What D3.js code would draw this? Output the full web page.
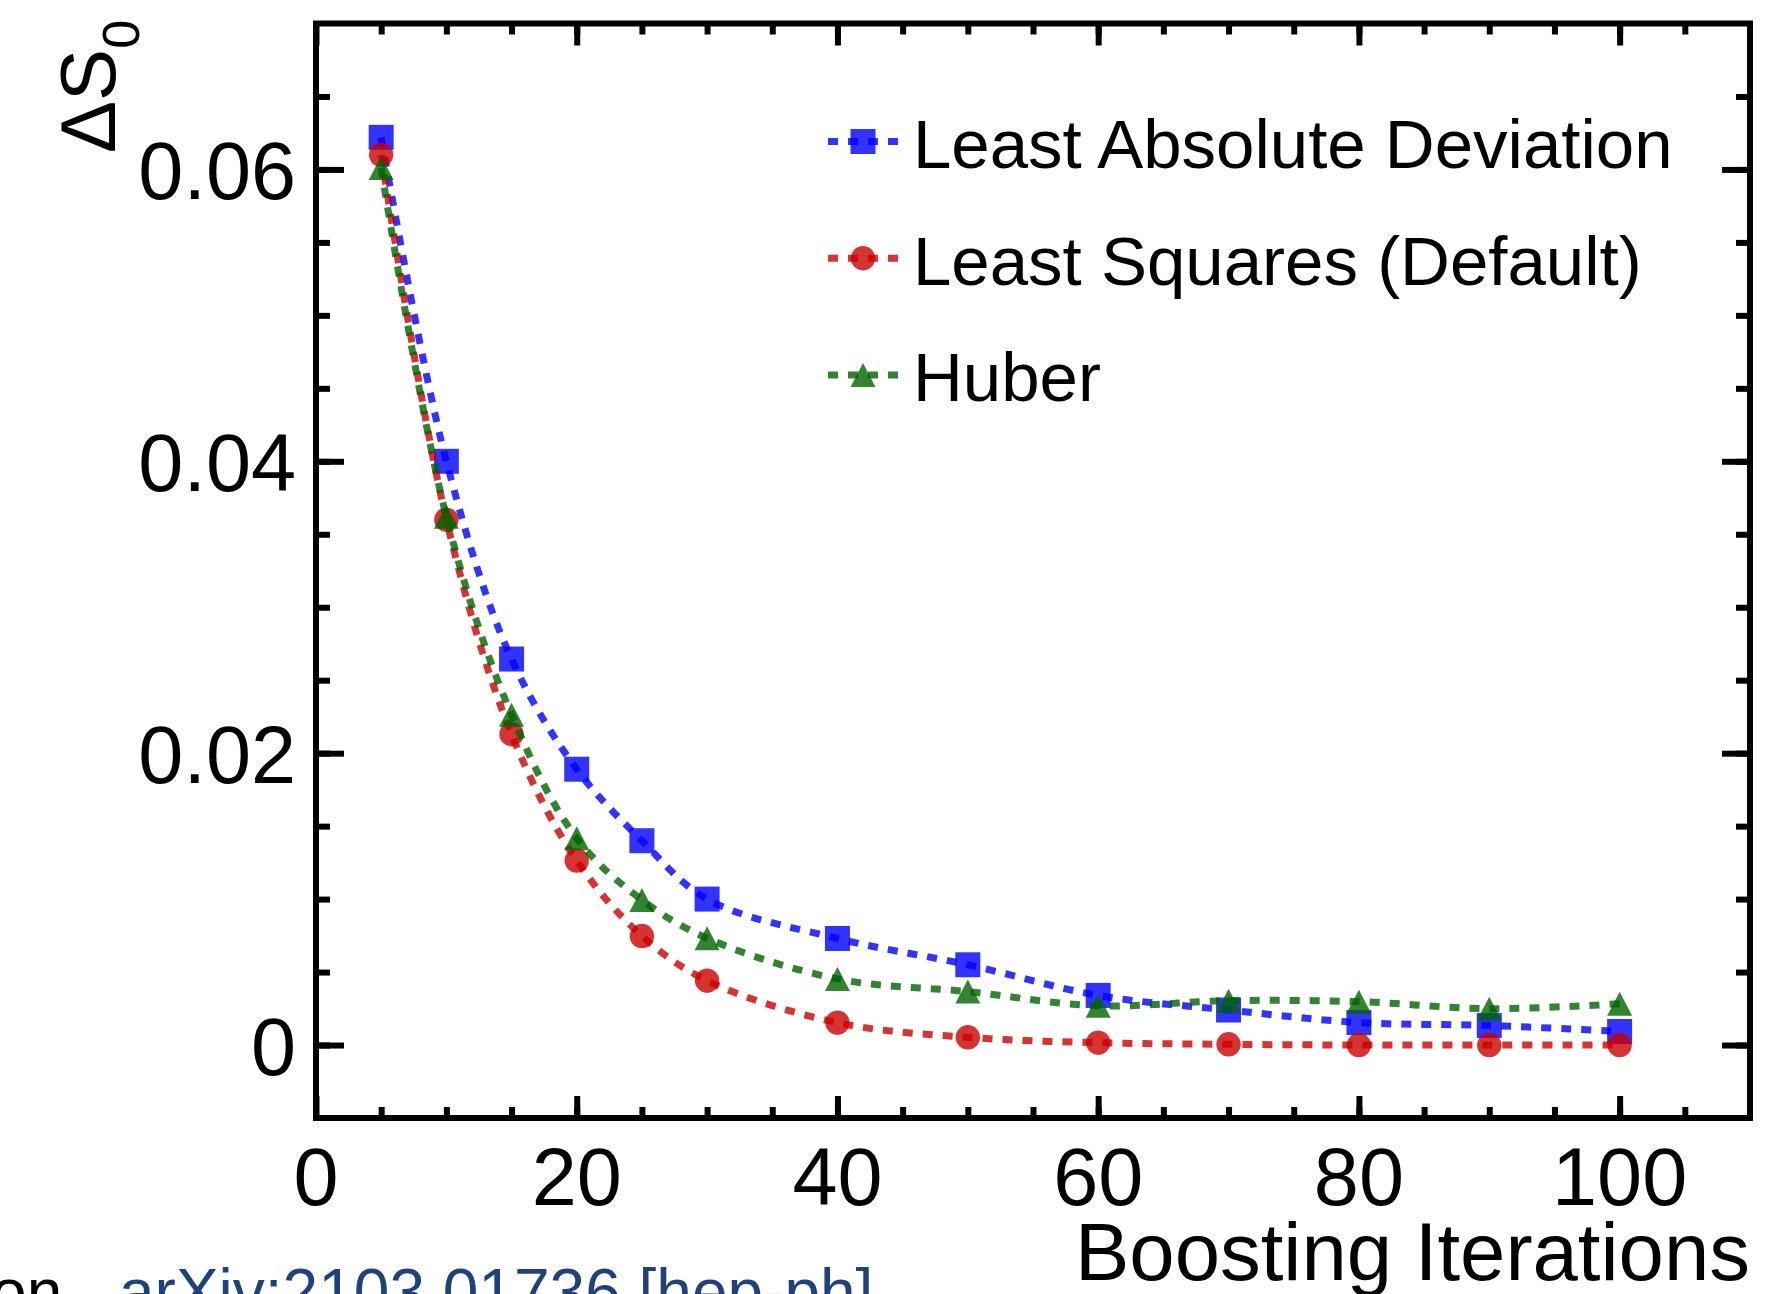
<!DOCTYPE html>
<html>
<head>
<meta charset="utf-8">
<script src="https://cdn.jsdelivr.net/npm/d3@7"></script>
<style>
  html, body { margin: 0; padding: 0; background: #fff; }
  svg { display: block; }
  text { font-family: "Liberation Sans", Arial, Helvetica, sans-serif; }
</style>
</head>
<body>
<svg id="chart" width="1784" height="1294"></svg>
<script>
// ---------------- data ----------------
const iterations = [5, 10, 15, 20, 25, 30, 40, 50, 60, 70, 80, 90, 100];
const ladValues = [0.0622, 0.0400, 0.02645, 0.0189, 0.0140, 0.0100, 0.0073, 0.0055, 0.0034, 0.0024, 0.00154, 0.00134, 0.00093];
const lsValues = [0.0610, 0.0360, 0.0213, 0.01264, 0.00747, 0.00441, 0.00153, 0.00053, 0.00016, 0.00005, 0.0, 0.0, 0.0];
const huberValues = [0.0601, 0.0362, 0.02263, 0.01417, 0.00994, 0.00732, 0.00453, 0.00366, 0.00269, 0.00304, 0.00297, 0.00249, 0.00283];
const seriesNames = ["Least Absolute Deviation", "Least Squares (Default)", "Huber"];
const xTickLabels = [0, 20, 40, 60, 80, 100];
const yTickLabels = [0, 0.02, 0.04, 0.06];
const xTitle = "Boosting Iterations";
const yTitleMain = "ΔS";
const yTitleSub = "0";
const creditPrefix = "Mason,";
const creditLink = "arXiv:2103.01736 [hep-ph]";

// ---------------- layout ----------------
const svg = d3.select("#chart");
const L = 316, R = 1750, T = 23.5, B = 1118;
const x = d3.scaleLinear().domain([0, 110]).range([L, R]);
const y = d3.scaleLinear().domain([-0.005, 0.07]).range([B, T]);

const styles = [
  { color: "#0000ff", shape: "square" },
  { color: "#cc0000", shape: "circle" },
  { color: "#006400", shape: "triangle" }
];
const seriesValues = [ladValues, lsValues, huberValues];

svg.append("rect").attr("width", 1784).attr("height", 1294).attr("fill", "#fff");

// ---------------- ticks ----------------
const xMinor = d3.range(5, 110, 5);
const yMinor = d3.range(0, 15).map(i => -0.005 + i * 0.005).filter(v => v > -0.004 && v < 0.069);
const yMajor = yTickLabels;
const xMajor = xTickLabels;

function tickGroup(axis, tr) {
  const g = svg.append("g").attr("transform", tr).call(axis);
  g.select(".domain").remove();
  g.selectAll(".tick line").attr("stroke", "#000").attr("stroke-width", 6);
  g.selectAll(".tick text").remove();
  return g;
}
// bottom & top
tickGroup(d3.axisBottom(x).tickValues(xMinor).tickSize(-11), `translate(0,${B})`);
tickGroup(d3.axisBottom(x).tickValues(xMajor).tickSize(-22), `translate(0,${B})`);
tickGroup(d3.axisTop(x).tickValues(xMinor).tickSize(-11), `translate(0,${T})`);
tickGroup(d3.axisTop(x).tickValues(xMajor).tickSize(-22), `translate(0,${T})`);
// left & right
tickGroup(d3.axisLeft(y).tickValues(yMinor).tickSize(-14), `translate(${L},0)`);
tickGroup(d3.axisLeft(y).tickValues(yMajor).tickSize(-28), `translate(${L},0)`);
tickGroup(d3.axisRight(y).tickValues(yMinor).tickSize(-14), `translate(${R},0)`);
tickGroup(d3.axisRight(y).tickValues(yMajor).tickSize(-28), `translate(${R},0)`);

// frame
svg.append("rect")
  .attr("x", L).attr("y", T).attr("width", R - L).attr("height", B - T)
  .attr("fill", "none").attr("stroke", "#000").attr("stroke-width", 6);

// tick labels
svg.append("g").selectAll("text").data(xTickLabels).join("text")
  .attr("x", d => x(d)).attr("y", 1205)
  .attr("text-anchor", "middle").attr("font-size", 81).attr("fill", "#000")
  .text(d => d3.format("d")(d));

svg.append("g").selectAll("text").data(yTickLabels).join("text")
  .attr("x", 296).attr("y", d => y(d) + 30)
  .attr("text-anchor", "end").attr("font-size", 81).attr("fill", "#000")
  .text(d => d === 0 ? "0" : d3.format(".2f")(d));

// axis titles
svg.append("text")
  .attr("x", R).attr("y", 1280)
  .attr("text-anchor", "end").attr("font-size", 81.5).attr("fill", "#000")
  .text(xTitle);

const yt = svg.append("text")
  .attr("transform", "translate(115,153) rotate(-90)")
  .attr("font-size", 78).attr("fill", "#000");
yt.append("tspan").text(yTitleMain);
yt.append("tspan").attr("font-size", 52).attr("dy", 24).text(yTitleSub);

// ---------------- series ----------------
function markerPath(shape) {
  if (shape === "square") return "M-12.5,-12.5H12.5V12.5H-12.5Z";
  if (shape === "circle") return d3.symbol(d3.symbolCircle, Math.PI * 12.2 * 12.2)();
  return "M0,-12L12.5,12L-12.5,12Z";
}

const line = d3.line()
  .x(d => x(d[0]))
  .y(d => y(d[1]))
  .curve(d3.curveCatmullRom.alpha(0.5));

seriesValues.forEach((vals, i) => {
  const pts = iterations.map((it, j) => [it, vals[j]]);
  const g = svg.append("g");
  g.append("path")
    .attr("d", line(pts))
    .attr("fill", "none")
    .attr("stroke", styles[i].color)
    .attr("stroke-opacity", 0.8)
    .attr("stroke-width", 7)
    .attr("stroke-dasharray", "10,10");
  g.selectAll("path.m").data(pts).join("path")
    .attr("class", "m")
    .attr("d", markerPath(styles[i].shape))
    .attr("transform", d => `translate(${x(d[0])},${y(d[1])})`)
    .attr("fill", styles[i].color)
    .attr("fill-opacity", 0.8);
});

// ---------------- legend ----------------
const legend = svg.append("g");
seriesNames.forEach((name, i) => {
  const cy = 141.5 + i * 116.7;
  const row = legend.append("g").attr("transform", `translate(0,${cy})`);
  row.append("line")
    .attr("x1", 828).attr("x2", 898).attr("y1", 0).attr("y2", 0)
    .attr("stroke", styles[i].color).attr("stroke-opacity", 0.8)
    .attr("stroke-width", 7).attr("stroke-dasharray", "10,10");
  row.append("path")
    .attr("d", markerPath(styles[i].shape))
    .attr("transform", "translate(863,0)")
    .attr("fill", styles[i].color).attr("fill-opacity", 0.8);
  row.append("text")
    .attr("x", 913).attr("y", 26.5)
    .attr("font-size", 69).attr("fill", "#000")
    .text(name);
});

// ---------------- credit line ----------------
svg.append("text")
  .attr("x", 80).attr("y", 1314)
  .attr("text-anchor", "end").attr("font-size", 64).attr("fill", "#000")
  .text(creditPrefix);
svg.append("text")
  .attr("x", 119).attr("y", 1314)
  .attr("font-size", 64).attr("fill", "#1f427c")
  .text(creditLink);
</script>
</body>
</html>
